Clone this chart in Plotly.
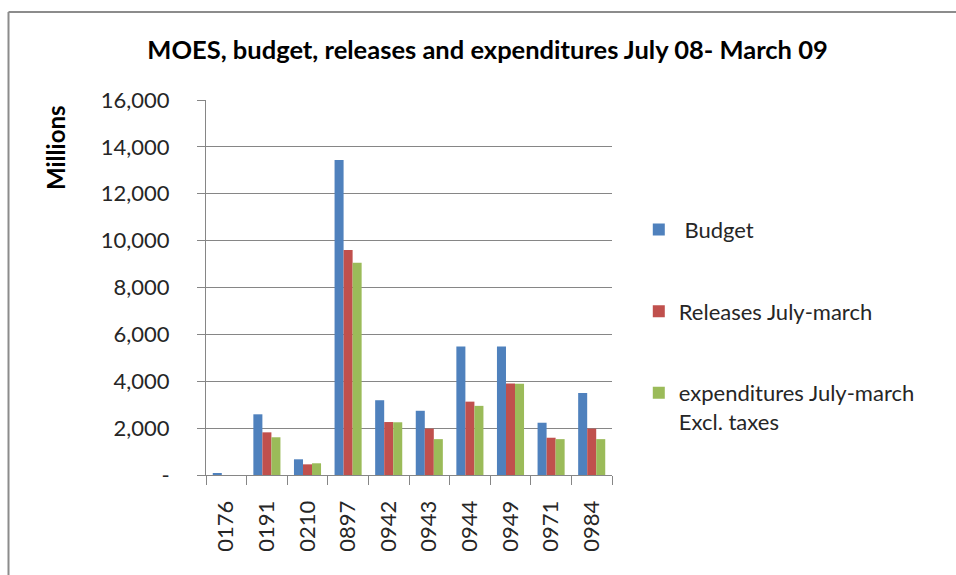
import plotly.graph_objects as go

# Budget heads (vote codes)
categories = ["0176", "0191", "0210", "0897", "0942", "0943", "0944", "0949", "0971", "0984"]

# Values in millions
budget = [70, 2590, 670, 13440, 3190, 2740, 5480, 5480, 2230, 3500]
releases = [0, 1820, 455, 9600, 2260, 1980, 3130, 3900, 1590, 1980]
expenditures = [0, 1610, 500, 9060, 2250, 1530, 2950, 3890, 1530, 1530]

series_names = ["Budget", "Releases July-march", "expenditures July-march<br>Excl. taxes"]
series_colors = ["#4F81BD", "#C0504D", "#9BBB59"]

y_tick_vals = [0, 2000, 4000, 6000, 8000, 10000, 12000, 14000, 16000]
y_tick_text = ["-", "2,000", "4,000", "6,000", "8,000", "10,000", "12,000", "14,000", "16,000"]

body_font = "Lato, 'Open Sans', sans-serif"
title_font = "'Liberation Sans Narrow', 'Arial Narrow', Lato, sans-serif"

fig = go.Figure()
for i, (name, vals, col) in enumerate(zip(series_names, [budget, releases, expenditures], series_colors)):
    fig.add_trace(go.Bar(
        x=categories, y=vals, name=(" " + name if i == 0 else name),
        marker=dict(color=col, line=dict(width=0)),
        legendgroup=f"g{i}",
    ))

fig.update_layout(
    width=956, height=575,
    margin=dict(l=206, r=344, t=100, b=100),
    paper_bgcolor="white", plot_bgcolor="white",
    barmode="group", bargap=0.333, bargroupgap=0,
    font=dict(family=body_font, size=22, color="#262626"),
    title=dict(
        text="<b>MOES, budget, releases and expenditures July 08- March 09</b>",
        font=dict(family=title_font, size=25.5, color="black"),
        xref="container", x=0.51, xanchor="center",
        yref="container", y=1 - 50 / 575, yanchor="middle",
    ),
    showlegend=True,
    legend=dict(
        x=1.066, xanchor="left", y=0.71, yanchor="top",
        traceorder="grouped", tracegroupgap=50, valign="top",
        font=dict(family=body_font, size=22, color="#262626"),
        itemwidth=30, bgcolor="rgba(0,0,0,0)",
    ),
    xaxis=dict(
        type="category", tickangle=-90, tickson="boundaries",
        ticks="outside", ticklen=9, tickcolor="#868686",
        showline=True, linecolor="#868686", linewidth=1,
        showgrid=False, ticklabelstandoff=16,
        tickfont=dict(family=body_font, size=22, color="#262626"),
    ),
    yaxis=dict(
        range=[0, 16000], tickvals=y_tick_vals, ticktext=y_tick_text,
        ticks="outside", ticklen=8, tickcolor="#868686",
        showline=True, linecolor="#868686", linewidth=1,
        showgrid=True, gridcolor="#868686", gridwidth=1,
        zeroline=False, ticklabelstandoff=23,
        tickfont=dict(family=body_font, size=22, color="#262626"),
    ),
    annotations=[dict(
        text="<b>Millions</b>", textangle=-90,
        xref="paper", yref="paper", x=(55 - 206) / 406, y=1 - (148 - 100) / 375,
        xanchor="center", yanchor="middle", showarrow=False,
        font=dict(family=body_font, size=24, color="black"),
    )],
    shapes=[
        dict(type="line", xref="paper", yref="paper",
             x0=(8.5 - 206) / 406, x1=(8.5 - 206) / 406, y0=-1, y1=1 + (100 - 12) / 375,
             line=dict(color="#8C8C8C", width=2)),
        dict(type="line", xref="paper", yref="paper",
             x0=(8.5 - 206) / 406, x1=2, y0=1 + (100 - 12) / 375, y1=1 + (100 - 12) / 375,
             line=dict(color="#8C8C8C", width=2)),
    ],
)

fig.write_html("out.html")
